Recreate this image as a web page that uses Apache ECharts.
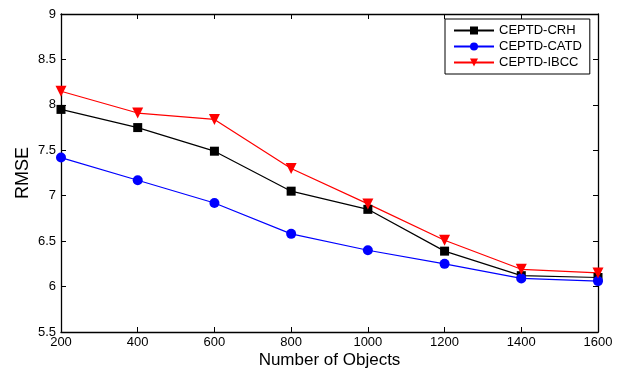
<!DOCTYPE html>
<html>
<head>
<meta charset="utf-8">
<script src="https://cdn.jsdelivr.net/npm/echarts@6/dist/echarts.min.js"></script>
<style>
  html, body { margin: 0; padding: 0; background: #fff; }
  #chart { width: 622px; height: 371px; }
</style>
</head>
<body>
<div id="chart"></div>
<script>
const objects = [200, 400, 600, 800, 1000, 1200, 1400, 1600];
const crh = [7.95, 7.75, 7.49, 7.05, 6.85, 6.39, 6.12, 6.10];
const catd = [7.42, 7.17, 6.92, 6.58, 6.40, 6.25, 6.09, 6.06];
const ibcc = [8.15, 7.91, 7.84, 7.30, 6.91, 6.51, 6.19, 6.15];

const font = 'Liberation Sans, Arial, sans-serif';

const pairs = (ys) => objects.map((x, i) => [x, ys[i]]);

const frameX = (pos, labels) => ({
  type: 'value', position: pos, min: 200, max: 1600, interval: 200,
  axisLine: { show: true, onZero: false, lineStyle: { color: '#000', width: 1.3 } },
  axisTick: { show: true, inside: true, length: 5, lineStyle: { color: '#000' } },
  axisLabel: { show: labels, color: '#000', fontSize: 13, fontFamily: font, margin: 4,
    formatter: (v) => String(v) },
  splitLine: { show: false }
});
const frameY = (pos, labels) => ({
  type: 'value', position: pos, min: 5.5, max: 9, interval: 0.5,
  axisLine: { show: true, onZero: false, lineStyle: { color: '#000', width: 1.3 } },
  axisTick: { show: true, inside: true, length: 5, lineStyle: { color: '#000' } },
  axisLabel: { show: labels, color: '#000', fontSize: 13, fontFamily: font, margin: 5 },
  splitLine: { show: false }
});

const chart = echarts.init(document.getElementById('chart'));
const xMain = frameX('bottom', true);
xMain.name = 'Number of Objects';
xMain.nameLocation = 'middle';
xMain.nameGap = 20;
xMain.nameMoveOverlap = false;
xMain.nameTextStyle = { color: '#000', fontSize: 17, fontFamily: font };
const yMain = frameY('left', true);
yMain.name = 'RMSE';
yMain.nameLocation = 'middle';
yMain.nameGap = 29;
yMain.nameMoveOverlap = false;
yMain.nameTextStyle = { color: '#000', fontSize: 18, fontFamily: font };

chart.setOption({
  animation: false,
  backgroundColor: '#fff',
  grid: { left: 61, right: 24, top: 14, bottom: 39, outerBoundsMode: 'none', containLabel: false },
  xAxis: [xMain, frameX('top', false)],
  yAxis: [yMain, frameY('right', false)],
  legend: {
    orient: 'vertical', left: 445, top: 19,
    backgroundColor: '#fff', borderColor: '#000', borderWidth: 1,
    padding: [5, 8, 5, 8], itemGap: 3, itemWidth: 40, itemHeight: 10,
    textStyle: { color: '#000', fontSize: 13, fontFamily: font },
    data: ['CEPTD-CRH', 'CEPTD-CATD', 'CEPTD-IBCC']
  },
  series: [
    {
      name: 'CEPTD-CRH', type: 'line', data: pairs(crh),
      symbol: 'rect', symbolSize: 9,
      lineStyle: { color: '#000', width: 1.2 }, itemStyle: { color: '#000' }
    },
    {
      name: 'CEPTD-CATD', type: 'line', data: pairs(catd),
      symbol: 'circle', symbolSize: 10,
      lineStyle: { color: '#0000ff', width: 1.2 }, itemStyle: { color: '#0000ff' }
    },
    {
      name: 'CEPTD-IBCC', type: 'line', data: pairs(ibcc),
      symbol: 'triangle', symbolSize: 11, symbolRotate: 180,
      lineStyle: { color: '#ff0000', width: 1.2 }, itemStyle: { color: '#ff0000' }
    }
  ]
});
</script>
</body>
</html>
